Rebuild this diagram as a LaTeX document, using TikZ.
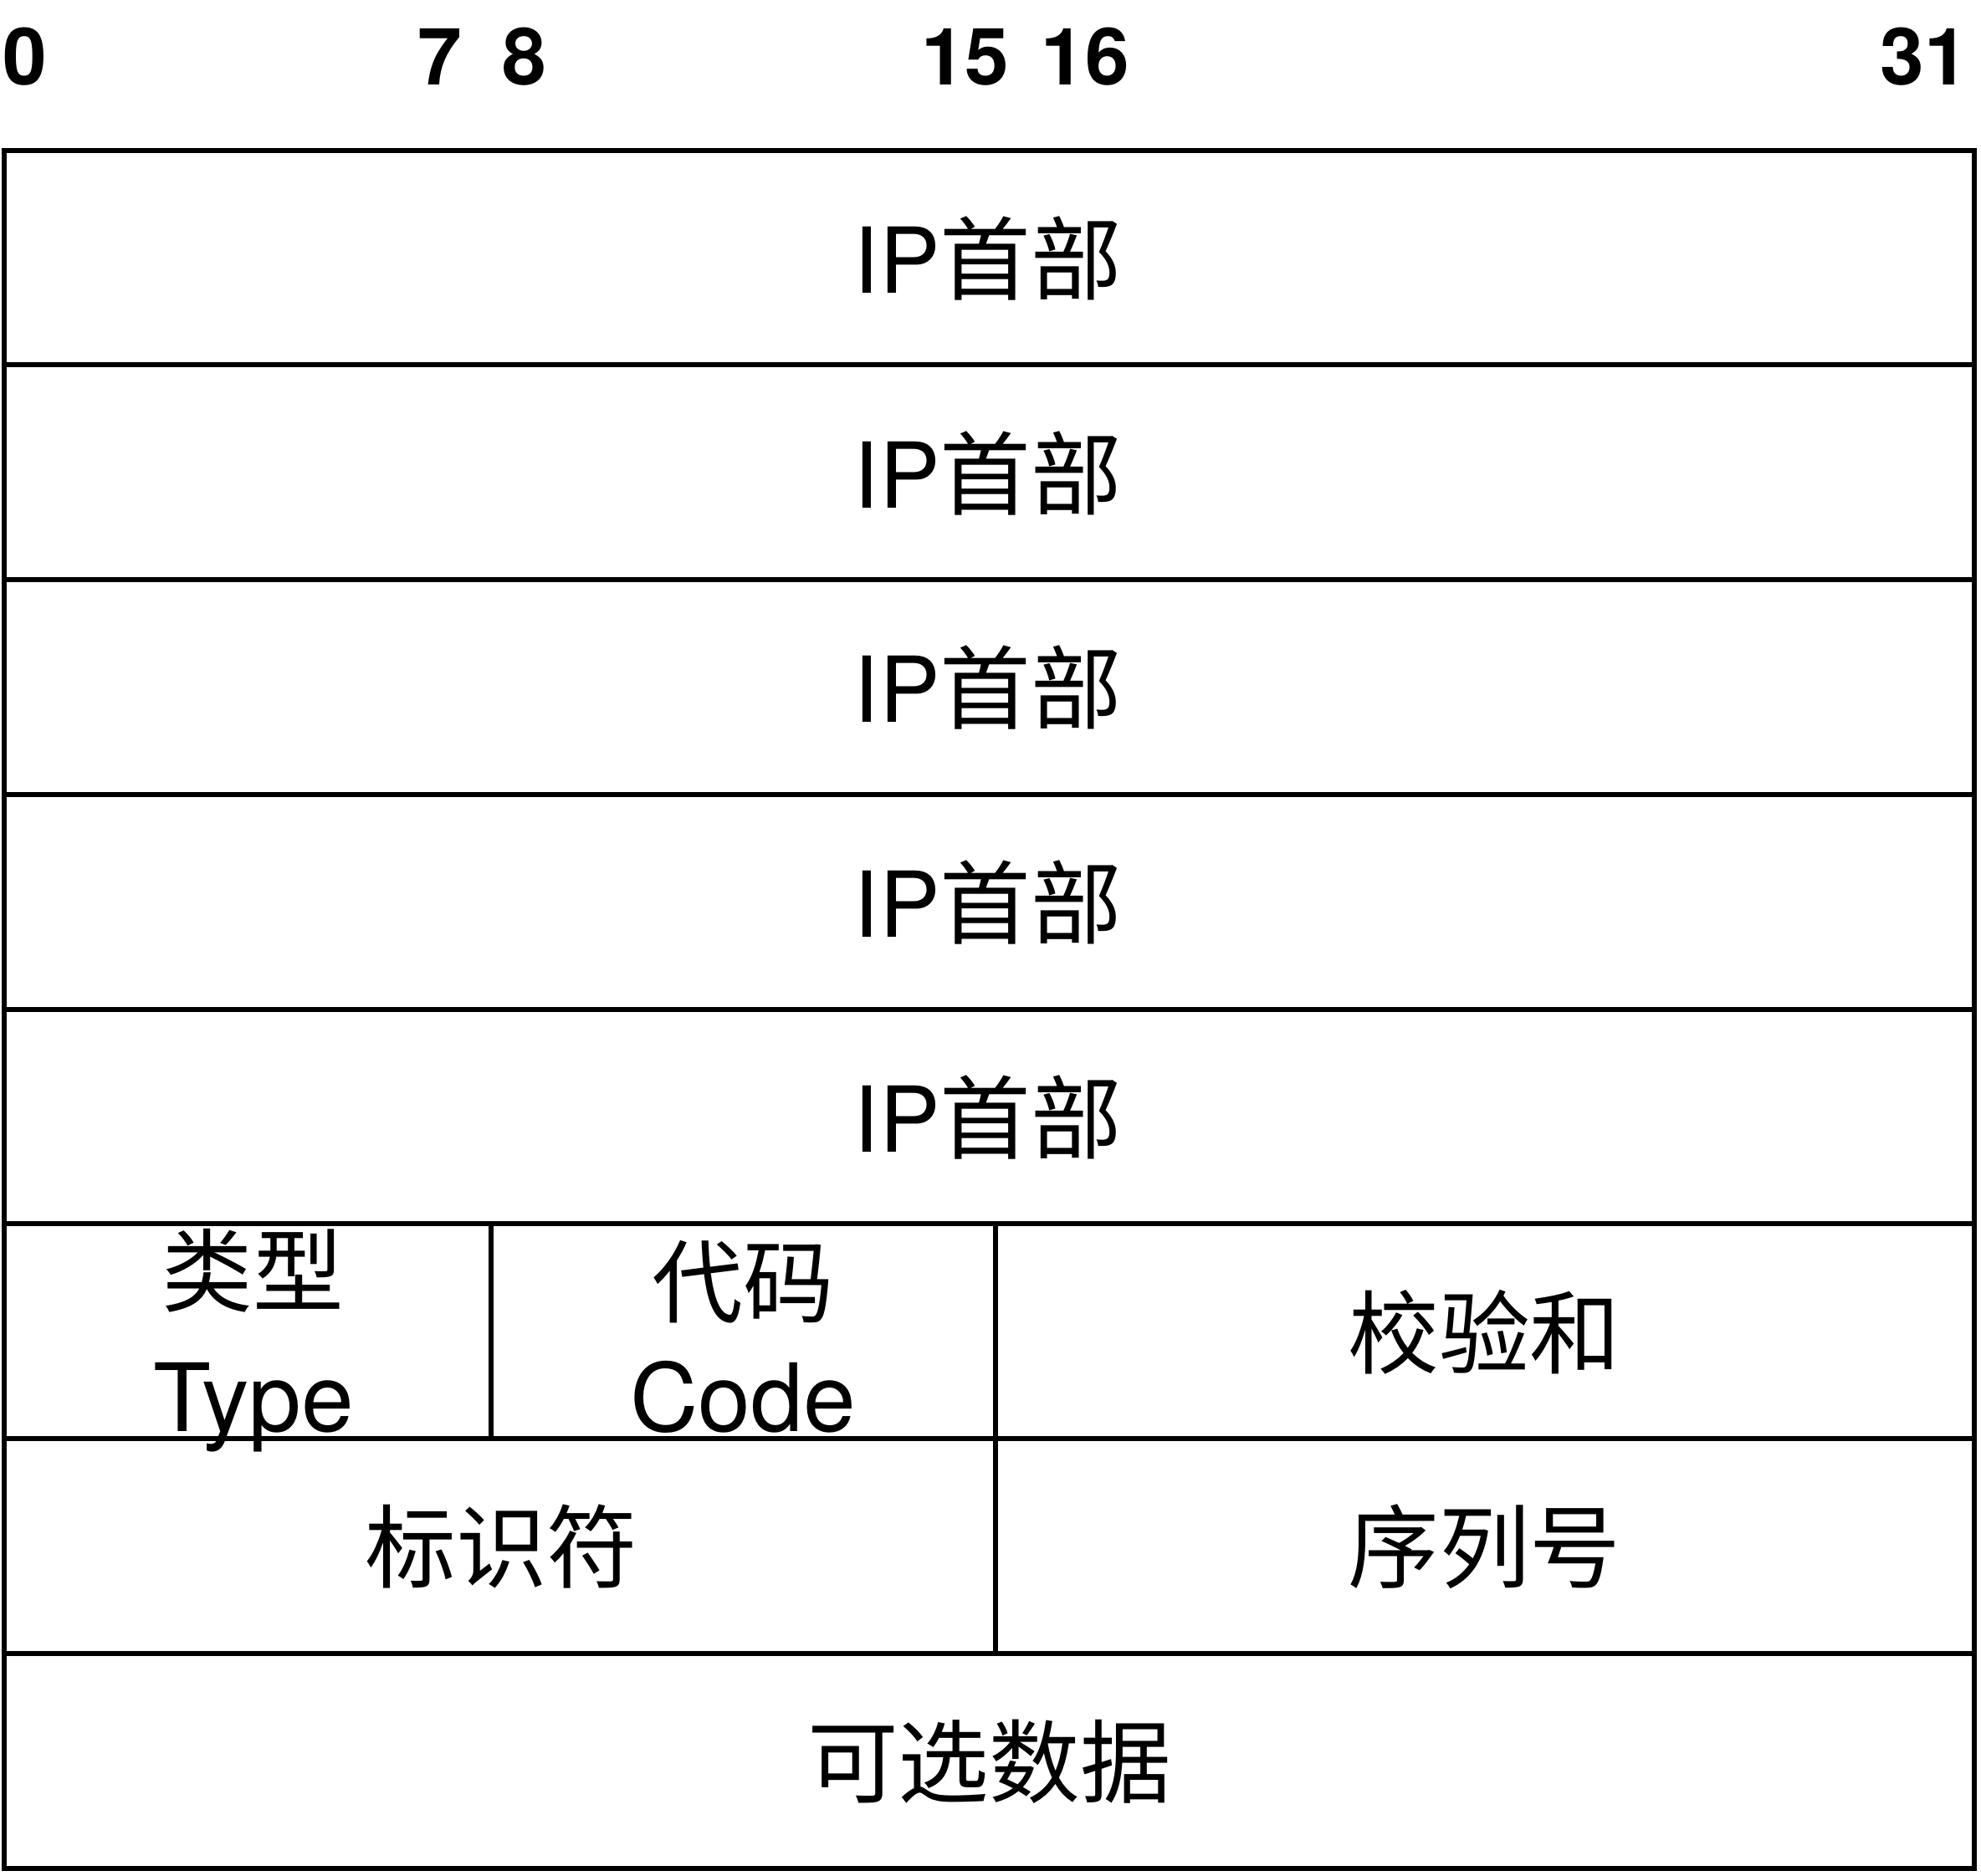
\documentclass[tikz,border=0pt]{standalone}
\usepackage{fontspec}
\setmainfont{TeX Gyre Heros}
\newfontfamily\cjk{Noto Sans CJK SC}
\begin{document}
\begin{tikzpicture}[x=0.75pt,y=-0.75pt,
  gridline/.style={line width=3pt,line cap=rect},
  bitlabel/.style={font=\fontsize{47}{47}\selectfont\bfseries,anchor=base,inner sep=0pt},
  celltext/.style={font=\fontsize{54}{54}\selectfont,anchor=base,inner sep=0pt},
  latintext/.style={font=\fontsize{56}{56}\selectfont,anchor=base,inner sep=0pt}]
\useasboundingbox (0,0) rectangle (1568,1485.2);
% bit numbers
\node[bitlabel] (b0) at (20,67) {0};
\node[bitlabel] (b7) at (348,67) {7};
\node[bitlabel] (b8) at (415,67) {8};
\node[bitlabel] (b15) at (764,67) {15};
\node[bitlabel] (b16) at (859,67) {16};
\node[bitlabel] (b31) at (1523,67) {31};
% IP header rows
\foreach \i in {1,...,5}{
  \node[celltext] (ip\i) at (782,{119+170*(\i-0.5)+28}) {IP{\cjk 首部}};
}
% ICMP fields
\node[celltext] (typezh) at (200,1033) {\cjk 类型};
\node[latintext] (typeen) at (201,1133) {Type};
\node[celltext] (codezh) at (588,1042) {\cjk 代码};
\node[latintext] (codeen) at (588,1133) {Code};
\node[celltext] (chk) at (1175,1082) {\cjk 校验和};
\node[celltext] (ident) at (397,1252) {\cjk 标识符};
\node[celltext] (seq) at (1175,1252) {\cjk 序列号};
\node[celltext] (data) at (783,1422) {\cjk 可选数据};
% grid
\draw[gridline] (3,119) rectangle (1563,1479);
\foreach \yy in {289,459,629,799,969,1139,1309}{
  \draw[gridline] (3,\yy) -- (1563,\yy);
}
\draw[gridline] (389,969) -- (389,1139);
\draw[gridline] (788,969) -- (788,1309);
\end{tikzpicture}
\end{document}
